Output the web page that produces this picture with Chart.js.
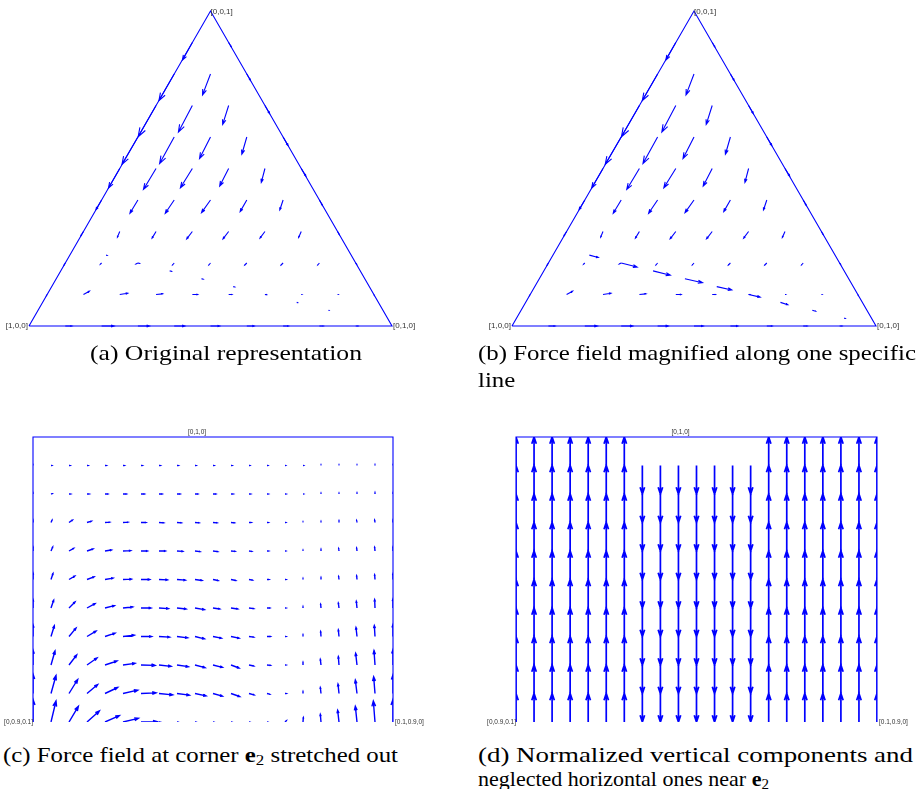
<!DOCTYPE html>
<html lang="en">
<head>
<meta charset="UTF-8" />
<title>Force field on the simplex</title>
<script src="https://cdn.jsdelivr.net/npm/chart.js"></script>
<style>
  body { margin: 0; background: #fff; width: 922px; height: 789px; position: relative; overflow: hidden; }
  canvas { position: absolute; }
  .cap { position: absolute; font-family: "Liberation Serif", "DejaVu Serif", serif; font-size: 22px; color: #000; white-space: nowrap; }
  .cap span { display: block; transform-origin: 0 50%; }
  .cap sub { font-size: 15px; vertical-align: -3px; line-height: 0; }
</style>
</head>
<body>
<canvas id="panelA" width="460" height="340" style="left:0;top:0"></canvas>
<canvas id="panelB" width="460" height="340" style="left:460px;top:0"></canvas>
<canvas id="panelC" width="460" height="320" style="left:0;top:420px"></canvas>
<canvas id="panelD" width="460" height="320" style="left:460px;top:420px"></canvas>

<div class="cap" style="left:90px;top:339px;line-height:27px"><span data-w="272">(a) Original representation</span></div>
<div class="cap" style="left:478px;top:339px;line-height:27px"><span data-w="438">(b) Force field magnified along one specific</span><span>line</span></div>
<div class="cap" style="left:3px;top:743px;line-height:24px"><span data-w="395">(c) Force field at corner <b>e</b><sub>2</sub> stretched out</span></div>
<div class="cap" style="left:478px;top:743px;line-height:24px"><span data-w="435">(d) Normalized vertical components and</span><span data-s="1">neglected horizontal ones near <b>e</b><sub>2</sub></span></div>

<script>
  const BLUE = "#0000ff";
  const SQ3 = Math.sqrt(3) / 2;

  // simplex field, row k has x3 = 1 - k/10, entry j has x2 = j/10 (j = 0 left side, j = k right side)
  const triField = [
    [[0, 0]],
    [[-30, -53], [8, -13]],
    [[-46, -80], [-24, -63], [11, -19]],
    [[-54, -94], [-42, -80], [-18, -57], [14, -24]],
    [[-48, -82], [-44, -80], [-33, -65], [-15, -52], [15, -26]],
    [[-34, -59], [-38, -63], [-36, -58], [-27, -53], [-11, -42], [14, -23]],
    [[-17, -29], [-24, -40], [-27, -40], [-27, -38], [-20, -35], [-10, -30], [9, -16]],
    [[-8, -13], [-7, -17], [-12, -20], [-17, -22], [-17, -22], [-15, -20], [-8, -18], [5, -9]],
    [[-4, -7], [-4, -4], [-6, -3], [-5, -6], [-5, -6], [-6, -6], [-6, -6], [-5, -6], [3, -4]],
    [[-2, -3], [18, 10], [24, 4], [20, 2], [16, 0], [10, 0], [4, 0], [2, 0], [2, 0], [1, -2]],
    [[0, 0], [20, 0], [38, 0], [35, 0], [32, 0], [28, 0], [22, 0], [16, 0], [12, 0], [7, 0], [0, 0]]
  ];

  // samples along the line from [0.75,0,0.25] to e2
  const lineX2 = [0.1, 0.2, 0.3, 0.4, 0.5, 0.6, 0.7, 0.8, 0.9];
  const lineX3 = [0.225, 0.2, 0.175, 0.15, 0.125, 0.1, 0.075, 0.05, 0.025];
  const lineU = [2.7, 4.8, 5.2, 5.3, 4.5, 3.5, 2.2, 1.0, 0.3];
  const lineV = [-0.7, -1.2, -1.3, -1.2, -1.0, -0.8, -0.7, -0.3, -0.1];
  const lineMagnify = 10;

  const triLabels = ["[1,0,0]", "[0,1,0]", "[0,0,1]"];

  // stretched corner around e2: 21 columns, rows from bottom (r0) to top (r10)
  const cornerField = [
    [[0,68],[15,63],[28,47],[37,33],[43,19],[46,11],[48,1],[3,0],[2,0],[2,0],[1,0],[1,0],[1,0],[1,0],[4,4],[1,13],[-2,23],[-4,35],[-5,47],[-5,63],[0,68]],
    [[0,58],[15,54],[26,42],[32,27],[38,18],[44,10],[45,2],[41,-4],[37,-5],[33,-7],[28,-8],[26,-9],[15,-4],[8,-2],[4,0],[0,6],[-2,18],[-3,28],[-5,40],[-4,50],[0,56]],
    [[0,45],[12,42],[23,30],[30,21],[36,12],[36,5],[42,-1],[36,-4],[34,-5],[30,-8],[28,-7],[24,-9],[14,-3],[10,-1],[3,0],[0,8],[-2,17],[-2,25],[-4,35],[-3,43],[0,46]],
    [[0,35],[10,32],[21,25],[27,16],[30,10],[34,4],[32,0],[32,-2],[32,-4],[28,-7],[25,-5],[24,-5],[14,-2],[10,0],[3,0],[0,5],[-1,15],[-2,20],[-3,27],[-2,33],[0,36]],
    [[0,25],[8,23],[18,18],[24,13],[28,7],[29,3],[30,0],[28,-2],[27,-3],[28,-5],[20,-3],[20,-3],[14,-2],[8,0],[3,0],[0,4],[-1,11],[-2,15],[-2,20],[-1,25],[0,27]],
    [[0,19],[6,18],[17,10],[21,8],[24,4],[25,1],[26,0],[25,-1],[25,-2],[21,-3],[15,-3],[14,-3],[10,-2],[6,0],[3,0],[0,3],[0,6],[-1,9],[-1,11],[-1,14],[0,17]],
    [[0,12],[5,12],[14,8],[18,6],[19,3],[23,1],[19,0],[19,0],[17,-1],[15,-2],[14,-2],[12,-1],[8,-1],[5,0],[2,0],[0,2],[0,5],[-1,7],[-1,9],[-1,11],[0,12]],
    [[0,7],[3,7],[10,7],[13,4],[14,1],[15,1],[15,0],[14,-1],[13,-1],[12,-1],[12,-1],[10,-1],[7,0],[4,0],[2,0],[0,1],[0,3],[0,5],[-1,6],[-1,7],[0,7]],
    [[0,3],[3,1],[5,0],[7,0],[8,0],[10,0],[10,0],[9,0],[9,0],[8,0],[8,0],[7,0],[5,0],[4,0],[3,0],[1,0],[0,2],[0,2],[0,3],[0,4],[0,3]],
    [[0,1],[2,0],[3,0],[3,0],[4,0],[4,0],[4,0],[4,0],[4,0],[3,0],[3,0],[3,0],[2,0],[2,0],[1,0],[1,0],[0,1],[0,1],[0,1],[0,2],[0,1]],
    [[0,0],[0,0],[0,0],[0,0],[0,0],[0,0],[0,0],[0,0],[0,0],[0,0],[0,0],[0,0],[0,0],[0,0],[0,0],[0,0],[0,0],[0,0],[0,0],[0,0],[0,0]]
  ];

  // normalized vertical direction per column, and rows carrying an arrow
  const dDir = [1, 1, 1, 1, 1, 1, 1, -1, -1, -1, -1, -1, -1, -1, 1, 1, 1, 1, 1, 1, 1];
  const dRowsUp = [0, 1, 2, 3, 4, 5, 6, 7, 8, 9];
  const dRowsDown = [1, 2, 3, 4, 5, 6, 7, 8, 9];

  const rectLabels = ["[0,0.9,0.1]", "[0,1,0]", "[0.1,0.9,0]"];

  function bary(x2, x3) {
    return { x: x2 + x3 / 2, y: x3 * SQ3 };
  }

  // arrows: shaft from (x,y) to (x+u*ku, y+v*kv), open head at the tip
  const quiverPlugin = {
    id: "quiver",
    afterDatasetsDraw(chart) {
      const { ctx, chartArea: area } = chart;
      const xs = chart.scales.x, ys = chart.scales.y;
      chart.data.datasets.forEach(ds => {
        const q = ds.quiver;
        if (!q) return;
        ctx.save();
        if (q.clip) {
          ctx.beginPath();
          ctx.rect(area.left, area.top, area.right - area.left, area.bottom - area.top);
          ctx.clip();
        }
        ctx.strokeStyle = BLUE;
        ctx.lineWidth = q.lineWidth;
        ctx.lineJoin = "miter";
        ds.data.forEach(p => {
          const x0 = xs.getPixelForValue(p.x), y0 = ys.getPixelForValue(p.y);
          const x1 = xs.getPixelForValue(p.x + p.u * q.ku);
          const y1 = ys.getPixelForValue(p.y + p.v * q.kv);
          const dx = x1 - x0, dy = y1 - y0;
          if (Math.hypot(dx, dy) < 0.2) return;
          const a = q.head, b = q.spread;
          ctx.beginPath();
          ctx.moveTo(x0, y0);
          ctx.lineTo(x1, y1);
          ctx.moveTo(x1 - a * (dx + b * dy), y1 - a * (dy - b * dx));
          ctx.lineTo(x1, y1);
          ctx.lineTo(x1 - a * (dx - b * dy), y1 - a * (dy + b * dx));
          ctx.stroke();
        });
        ctx.restore();
      });
    }
  };

  const labelPlugin = {
    id: "cornerLabels",
    afterDraw(chart, args, opts) {
      const { ctx } = chart;
      const xs = chart.scales.x, ys = chart.scales.y;
      ctx.save();
      ctx.font = opts.font;
      ctx.fillStyle = "#333";
      opts.items.forEach(it => {
        ctx.textAlign = it.align;
        ctx.textBaseline = "middle";
        ctx.fillText(it.text, xs.getPixelForValue(it.x) + it.dx, ys.getPixelForValue(it.y) + it.dy);
      });
      ctx.restore();
    }
  };

  function frame(points, width) {
    return { data: points, showLine: true, borderColor: BLUE, borderWidth: width, pointRadius: 0, clip: false };
  }

  function arrows(points, q) {
    return { data: points, showLine: false, pointRadius: 0, borderColor: BLUE, clip: false, quiver: q };
  }

  function makeChart(id, datasets, xr, yr, padding, labels) {
    return new Chart(document.getElementById(id), {
      type: "scatter",
      data: { datasets },
      options: {
        responsive: false,
        animation: false,
        events: [],
        layout: { padding },
        scales: {
          x: { type: "linear", display: false, min: xr[0], max: xr[1] },
          y: { type: "linear", display: false, min: yr[0], max: yr[1] }
        },
        plugins: { legend: { display: false }, tooltip: { enabled: false }, cornerLabels: labels }
      },
      plugins: [quiverPlugin, labelPlugin]
    });
  }

  // simplex panels
  const triPoints = [];
  triField.forEach((row, k) => row.forEach(([u, v], j) => {
    const p = bary(j / 10, 1 - k / 10);
    triPoints.push({ x: p.x, y: p.y, u, v });
  }));
  const linePoints = mag => lineX2.map((x2, i) => {
    const p = bary(x2, lineX3[i]);
    return { x: p.x, y: p.y, u: lineU[i] * mag, v: lineV[i] * mag };
  });
  const corners = [bary(0, 0), bary(1, 0), bary(0, 1)];
  const triOutline = [corners[0], corners[1], corners[2], corners[0]];
  const triQ = { ku: 1 / 1095, kv: 1 / 1095, lineWidth: 1.1, head: 0.25, spread: 0.35, clip: false };
  const triLabelOpts = {
    font: '8px "Liberation Sans", Arial, sans-serif',
    items: [
      { text: triLabels[0], x: corners[0].x, y: corners[0].y, align: "right", dx: -1, dy: 0 },
      { text: triLabels[1], x: corners[1].x, y: corners[1].y, align: "left", dx: 1, dy: 0 },
      { text: triLabels[2], x: corners[2].x, y: corners[2].y, align: "left", dx: 0, dy: 1 }
    ]
  };

  makeChart("panelA",
    [frame(triOutline, 1.1), arrows(triPoints, triQ), arrows(linePoints(1), triQ)],
    [0, 1], [0, SQ3], { left: 29, right: 68, top: 11, bottom: 14 }, triLabelOpts);

  makeChart("panelB",
    [frame(triOutline, 1.1), arrows(triPoints, triQ), arrows(linePoints(lineMagnify), triQ)],
    [0, 1], [0, SQ3], { left: 52, right: 44, top: 11, bottom: 14 }, triLabelOpts);

  // stretched corner panels
  const rectOutline = [{ x: 0, y: 0 }, { x: 0, y: 10 }, { x: 20, y: 10 }, { x: 20, y: 0 }];
  const rectLabelOpts = {
    font: '6.5px "Liberation Sans", Arial, sans-serif',
    items: [
      { text: rectLabels[0], x: 0, y: 0, align: "right", dx: 0, dy: 0 },
      { text: rectLabels[1], x: 10, y: 10, align: "left", dx: -25, dy: -5 },
      { text: rectLabels[2], x: 20, y: 0, align: "left", dx: 2, dy: 0 }
    ]
  };

  const cornerPoints = [];
  cornerField.forEach((row, r) => row.forEach(([u, v], c) => cornerPoints.push({ x: c, y: r, u, v })));
  makeChart("panelC",
    [frame(rectOutline, 1.1), arrows(cornerPoints, { ku: 1 / 54, kv: 1 / 85.5, lineWidth: 1.4, head: 0.25, spread: 0.35, clip: true })],
    [0, 20], [0, 10], { left: 33, right: 67, top: 17, bottom: 18 }, rectLabelOpts);

  const normPoints = [];
  dDir.forEach((s, c) => {
    (s > 0 ? dRowsUp : dRowsDown).forEach(r => normPoints.push({ x: c, y: r, u: 0, v: s }));
  });
  makeChart("panelD",
    [frame(rectOutline, 1.1), arrows(normPoints, { ku: 1, kv: 1, lineWidth: 1.7, head: 0.24, spread: 0.33, clip: true })],
    [0, 20], [0, 10], { left: 56, right: 43, top: 17, bottom: 18 }, rectLabelOpts);

  // widen caption lines to the column width; closing lines keep their own width or the line above's stretch
  let lastScale = 1;
  document.querySelectorAll(".cap span").forEach(el => {
    el.style.width = "max-content";
    const natural = el.getBoundingClientRect().width;
    let s = lastScale;
    if (el.dataset.w) s = (+el.dataset.w) / natural;
    else if (el.dataset.s) s = +el.dataset.s;
    el.style.transform = "scaleX(" + s + ")";
    lastScale = s;
  });
</script>
</body>
</html>
